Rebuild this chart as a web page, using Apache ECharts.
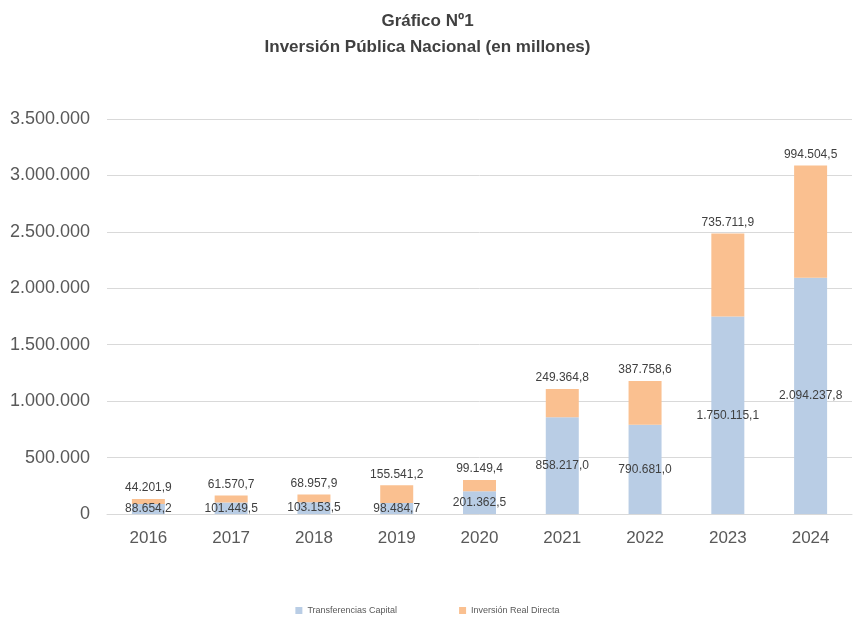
<!DOCTYPE html>
<html><head><meta charset="utf-8">
<script src="https://cdn.jsdelivr.net/npm/echarts@6/dist/echarts.min.js"></script>
<style>html,body{margin:0;padding:0;background:#fff}#c{width:855px;height:632px}</style>
</head><body><div id="c"></div>
<script>
var categories = ['2016','2017','2018','2019','2020','2021','2022','2023','2024'];
var transferencias = [88654.2, 101449.5, 103153.5, 98484.7, 201362.5, 858217.0, 790681.0, 1750115.1, 2094237.8];
var inversionReal = [44201.9, 61570.7, 68957.9, 155541.2, 99149.4, 249364.8, 387758.6, 735711.9, 994504.5];
var yTicks = [0, 500000, 1000000, 1500000, 2000000, 2500000, 3000000, 3500000];

function fmt(v, dec) {
  var s = v.toFixed(dec);
  var parts = s.split('.');
  var ip = parts[0].replace(/\B(?=(\d{3})+(?!\d))/g, '.');
  return dec ? ip + ',' + parts[1] : ip;
}
var FONT = 'Liberation Sans';
var chart = echarts.init(document.getElementById('c'));
chart.setOption({
  animation: false,
  textStyle: {fontFamily: FONT},
  title: {
    text: 'Gráfico Nº1\nInversión Pública Nacional (en millones)',
    left: 'center', top: 3,
    textStyle: {fontFamily: FONT, fontSize: 17, fontWeight: 'bold', color: '#404040', lineHeight: 26}
  },
  legend: {
    bottom: 12, left: 'center', itemWidth: 7, itemHeight: 7, itemGap: 62, icon: 'rect',
    textStyle: {fontFamily: FONT, fontSize: 9, color: '#595959'},
    data: ['Transferencias Capital', 'Inversión Real Directa']
  },
  grid: {left: 107, right: 3, top: 119, bottom: 118},
  xAxis: {
    type: 'category', data: categories,
    axisLine: {lineStyle: {color: '#D9D9D9'}},
    axisTick: {show: false},
    axisLabel: {fontSize: 17, color: '#595959', margin: 16, fontFamily: FONT}
  },
  yAxis: {
    type: 'value', min: 0, max: yTicks[yTicks.length - 1], interval: 500000,
    axisLine: {show: false}, axisTick: {show: false},
    splitLine: {lineStyle: {color: '#D9D9D9'}},
    axisLabel: {fontSize: 18, color: '#595959', margin: 17, fontFamily: FONT,
      formatter: function (v) { return fmt(v, 0); }}
  },
  series: [
    {
      name: 'Transferencias Capital', type: 'bar', stack: 'total', barWidth: 33,
      data: transferencias,
      itemStyle: {color: '#B9CDE5'},
      label: {show: true, position: 'inside', fontSize: 12, color: '#404040', fontFamily: FONT,
        formatter: function (p) { return fmt(p.value, 1); }}
    },
    {
      name: 'Inversión Real Directa', type: 'bar', stack: 'total', barWidth: 33,
      data: inversionReal,
      itemStyle: {color: '#FAC090'},
      label: {show: true, position: 'top', distance: 5, fontSize: 12, color: '#404040', fontFamily: FONT,
        formatter: function (p) { return fmt(p.value, 1); }}
    }
  ]
});
</script></body></html>
